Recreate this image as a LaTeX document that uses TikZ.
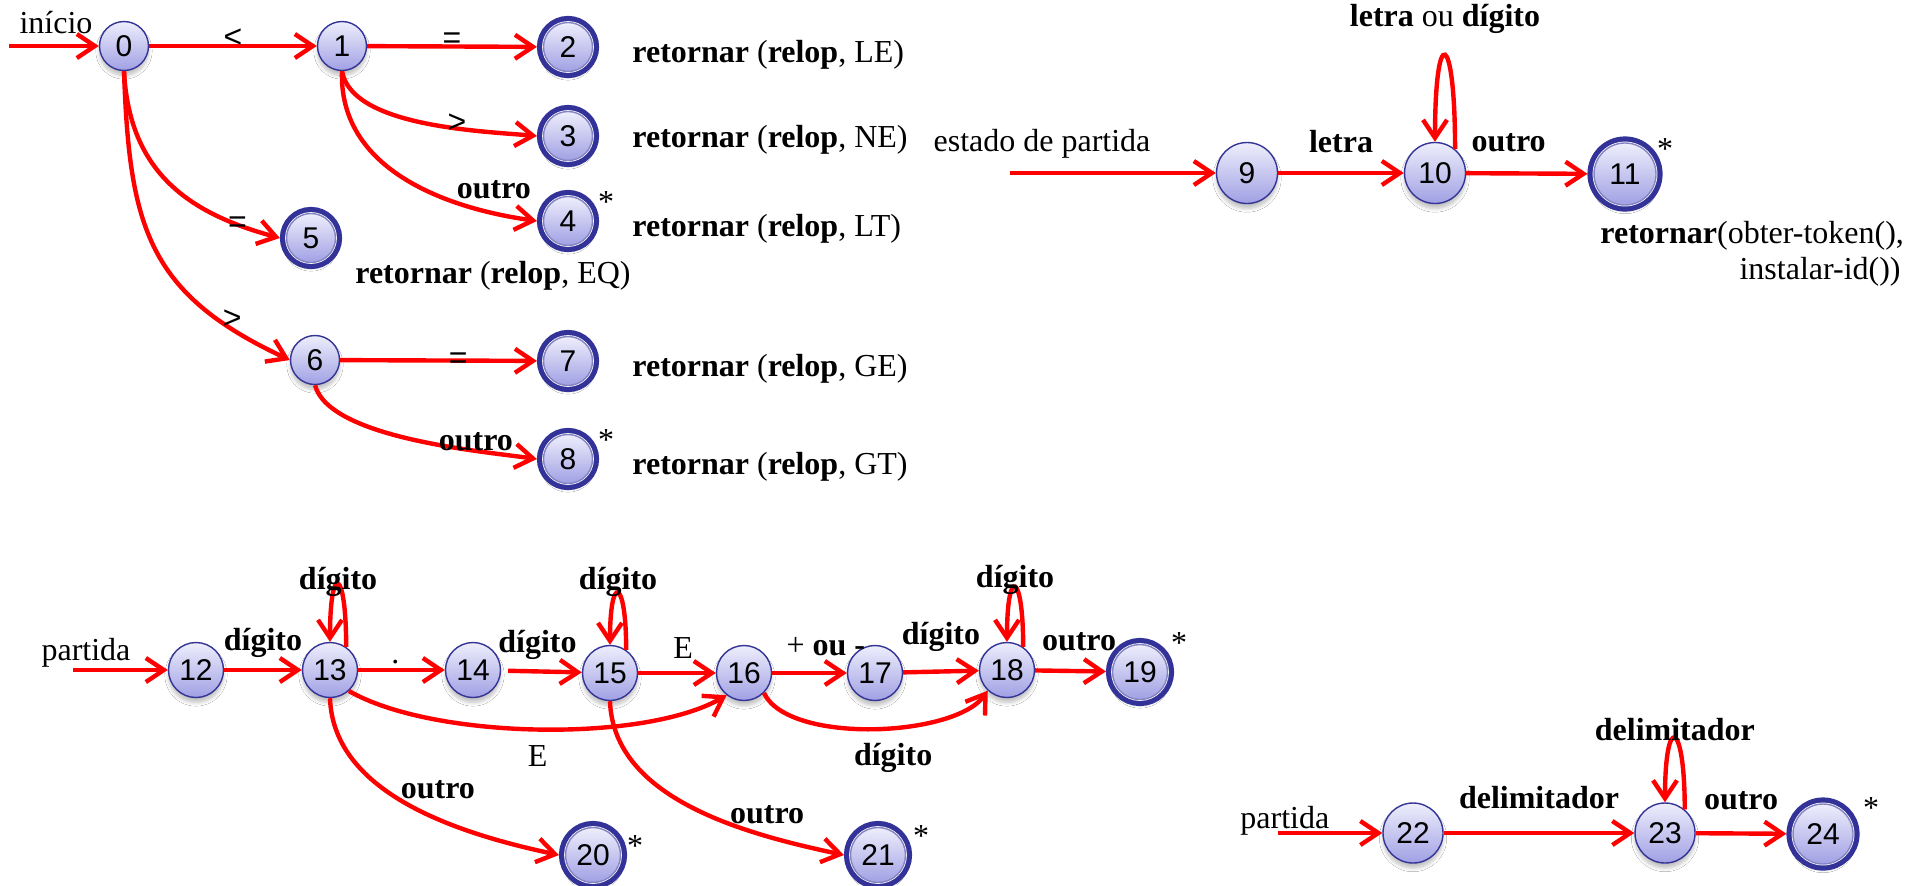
\documentclass[tikz,border=0pt]{standalone}
\usepackage{fontspec}
\setmainfont{Liberation Serif}
\setsansfont{Liberation Sans}
\usepackage{xcolor}
\usepackage{tikz}
\usetikzlibrary{arrows.meta, positioning, shadows.blur}
\definecolor{bordaazul}{RGB}{52,52,150}
\definecolor{anelazul}{RGB}{50,50,152}
\definecolor{lilasclaro}{RGB}{238,238,252}
\definecolor{lilasescuro}{RGB}{160,160,228}
\tikzset{
    estado/.style={circle, draw=bordaazul, line width=0.7pt, top color=lilasclaro, bottom color=lilasescuro, inner sep=0pt, minimum size=#1, font=\sffamily\fontsize{15}{15}\selectfont, blur shadow={shadow xshift=0pt, shadow yshift=-2.5pt, shadow opacity=25, shadow blur steps=6}},
    estado/.default=27.5pt,
    final/.style={estado=#1, preaction={draw=anelazul, line width=6.6pt}, preaction={draw=white, line width=1.4pt}, draw=anelazul!60, outer sep=3.3pt},
    final/.default=27.5pt,
    seta/.style={-{Straight Barb[length=9pt, width=12pt]}, draw=red, line width=2.2pt},
    laco/.style={out=90, in=90, out distance=#1, in distance=#1}
}

\begin{document}
\begin{tikzpicture}[x=0.5pt, y=0.5pt,
  rotulo/.style={font=\fontsize{16}{18}\selectfont, inner sep=1pt},
  negrito/.style={font=\bfseries\fontsize{16}{18}\selectfont, inner sep=1pt},
  simbolo/.style={font=\sffamily\fontsize{16}{18}\selectfont, inner sep=1pt},
  asterisco/.style={font=\fontsize{16}{18}\selectfont, inner sep=0pt}]
  \fill[white] (0,0) rectangle (1915,-885);
  \useasboundingbox (0,0) rectangle (1915,-885);

  \node[estado=24.5pt] (q0) at (124,-46) {0};
  \node[estado=24.5pt] (q1) at (342,-46) {1};
  \node[final=24.5pt] (q2) at (568,-47) {2};
  \node[final=24.5pt] (q3) at (568,-136) {3};
  \node[final=24.5pt] (q4) at (568,-221) {4};
  \node[final=24.5pt] (q5) at (311,-238) {5};
  \node[estado=24.5pt] (q6) at (315,-360) {6};
  \node[final=24.5pt] (q7) at (568,-361) {7};
  \node[final=24.5pt] (q8) at (568,-459) {8};
  \node[rotulo, anchor=base] (inicio) at (56,-33) {início};
  \coordinate (e0) at (9,-46);
  \draw[seta] (e0) -- (q0);
  \draw[seta] (q0) -- node[simbolo, above=-3pt] {<} (q1);
  \draw[seta] (q1) -- node[simbolo, above=-3pt] {=} (q2);
  \draw[seta] (q1.south) to[out=-80, in=175, looseness=0.7] node[simbolo, pos=0.64, above=-4pt] {>} (q3.west);
  \draw[seta] (q1.south) to[out=-92, in=172] node[negrito, pos=0.85, above=5pt] {outro} (q4.west);
  \draw[seta] (q0.south) to[out=-87, in=165, looseness=1.1] node[simbolo, pos=0.84, above=-6pt] {=} (q5.west);
  \draw[seta] (q0.south) to[out=-88, in=155, looseness=1.2] node[simbolo, pos=0.8, right] {>} (q6.west);
  \draw[seta] (q6) -- node[simbolo, pos=0.6] {=} (q7);
  \draw[seta] (q6.south) to[out=-75, in=172, looseness=0.6] node[negrito, pos=0.73, above=-2pt] {outro} (q8.west);
  \node[asterisco] (s4) at ([shift={(38,19)}]q4) {*};
  \node[asterisco] (s8) at ([shift={(38,19)}]q8) {*};
  \node[rotulo, anchor=base west] (rLE) at (630,-62) {\textbf{retornar} (\textbf{relop}, LE)};
  \node[rotulo, anchor=base west] (rNE) at (630,-147) {\textbf{retornar} (\textbf{relop}, NE)};
  \node[rotulo, anchor=base west] (rLT) at (630,-236) {\textbf{retornar} (\textbf{relop}, LT)};
  \node[rotulo, anchor=base west] (rEQ) at (353,-283) {\textbf{retornar} (\textbf{relop}, EQ)};
  \node[rotulo, anchor=base west] (rGE) at (630,-376) {\textbf{retornar} (\textbf{relop}, GE)};
  \node[rotulo, anchor=base west] (rGT) at (630,-474) {\textbf{retornar} (\textbf{relop}, GT)};

  \node[estado=30.5pt] (q9) at (1247,-173) {9};
  \node[estado=30.5pt] (q10) at (1435,-173) {10};
  \node[final=31pt] (q11) at (1625,-174) {11};
  \node[rotulo, anchor=base] (partida0) at (1042,-151) {estado de partida};
  \coordinate (e9) at (1010,-173);
  \draw[seta] (e9) -- (q9);
  \draw[seta] (q9) -- node[negrito, above=8pt] {letra} (q10);
  \draw[seta] (q10.50) to[laco=60pt] node[rotulo, above=9pt] {\textbf{letra} ou \textbf{dígito}} (q10.north);
  \draw[seta] (q10) -- node[negrito, pos=0.35, above=8.5pt] {outro} (q11);
  \node[asterisco] (s11) at ([shift={(40,25)}]q11) {*};
  \node[rotulo, anchor=base west] (rId) at (1598,-243) {\textbf{retornar}(obter-token(),};
  \node[rotulo, anchor=base east] (rInst) at (1903,-279) {instalar-id())};

  \node[estado] (q12) at (196,-670) {12};
  \node[estado] (q13) at (330,-670) {13};
  \node[estado] (q14) at (473,-670) {14};
  \node[estado] (q15) at (610,-673) {15};
  \node[estado] (q16) at (744,-673) {16};
  \node[estado] (q17) at (875,-673) {17};
  \node[estado] (q18) at (1007,-670) {18};
  \node[final] (q19) at (1140,-672) {19};
  \node[final] (q20) at (593,-855) {20};
  \node[final] (q21) at (878,-855) {21};
  \node[rotulo, anchor=base] (partida1) at (86,-660) {partida};
  \coordinate (e12) at (73,-670);
  \draw[seta] (e12) -- (q12);
  \draw[seta] (q12) -- node[negrito, above=4pt] {dígito} (q13);
  \draw[seta] (q13.55) to[laco=40pt] node[negrito, above=-8pt] {dígito} (q13.north);
  \draw[seta] (q13) -- node[rotulo, pos=0.43, above=1pt] {.} (q14);
  \draw[seta, shorten <=3.5pt] (q14) -- node[negrito, pos=0.45, above=4pt] {dígito} (q15);
  \draw[seta] (q15.55) to[laco=36pt] node[negrito, above=-3.5pt] {dígito} (q15.north);
  \draw[seta] (q15) -- node[rotulo, pos=0.58, above=5pt] {E} (q16);
  \draw[seta] (q16) -- node[rotulo, pos=0.72, above=6.5pt] {+ \textbf{ou -}} (q17);
  \draw[seta] (q17) -- node[negrito, above=8pt] {dígito} (q18);
  \draw[seta] (q18.55) to[laco=38pt] node[negrito, above=-5.5pt] {dígito} (q18.north);
  \draw[seta] (q18) -- node[negrito, pos=0.62, above=8pt] {outro} (q19);
  \draw[seta] (q13.-48) to[out=-30, in=-150, looseness=0.65] node[rotulo, below=6pt] {E} (q16.-128);
  \draw[seta] (q16.-45) to[out=-65, in=-125, looseness=0.65] node[negrito, pos=0.57, below=6pt] {dígito} (q18.-133);
  \draw[seta] (q13.south) to[out=-88, in=168, looseness=0.9] node[negrito, pos=0.4, right=6pt] {outro} (q20.west);
  \draw[seta] (q15.south) to[out=-88, in=168, looseness=0.9] node[negrito, pos=0.75, above=4pt] {outro} (q21.west);
  \node[asterisco] (s19) at ([shift={(39,29)}]q19) {*};
  \node[asterisco] (s20) at ([shift={(42,9)}]q20) {*};
  \node[asterisco] (s21) at ([shift={(43,19)}]q21) {*};

  \node[estado=30pt] (q22) at (1413,-833) {22};
  \node[estado=30pt] (q23) at (1665,-833) {23};
  \node[final=30pt] (q24) at (1823,-834) {24};
  \node[rotulo, anchor=base west] (partida2) at (1238,-828) {partida};
  \coordinate (e22) at (1278,-833);
  \draw[seta] (e22) -- (q22);
  \draw[seta] (q22) -- node[negrito, above=10pt] {delimitador} (q23);
  \draw[seta] (q23.50) to[laco=45pt] node[negrito, above=-3.5pt] {delimitador} (q23.north);
  \draw[seta] (q23) -- node[negrito, above=9.5pt] {outro} (q24);
  \node[asterisco] (s24) at ([shift={(48,26)}]q24) {*};
\end{tikzpicture}
\end{document}
